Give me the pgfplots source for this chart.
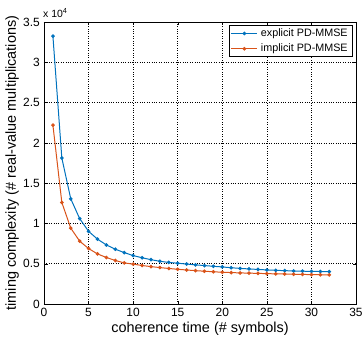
\documentclass[border=0pt]{standalone}
\usepackage{pgfplots}
\pgfplotsset{compat=1.18}
\usetikzlibrary{calc}
\usepackage{fontspec}
\setmainfont{Liberation Sans}
\definecolor{mblue}{RGB}{0,114,189}
\definecolor{morange}{RGB}{217,83,25}
\pgfplotstableread{
T exp imp
1 33250 22200
2 18120 12600
3 13060 9420
4 10600 7800
5 9020 6880
6 8050 6220
7 7330 5770
8 6800 5400
9 6380 5100
10 6010 4950
11 5740 4780
12 5500 4640
13 5300 4520
14 5160 4410
15 5060 4310
16 4960 4220
17 4860 4140
18 4770 4070
19 4680 4000
20 4600 3940
21 4500 3900
22 4420 3860
23 4350 3830
24 4290 3800
25 4230 3770
26 4180 3740
27 4140 3720
28 4100 3690
29 4070 3670
30 4050 3650
31 4030 3630
32 4020 3610
}\data
\begin{document}
\begin{tikzpicture}
\begin{axis}[
  scale only axis, width=312bp, height=282bp,
  xmin=0, xmax=35, ymin=0, ymax=35000,
  xtick={0,5,...,35},
  xticklabels={0,5,10,15,20,25,30,35},
  ytick={0,5000,...,35000},
  yticklabels={0,0.5,1,1.5,2,2.5,3,3.5},
  scaled y ticks=false,
  ticklabel style={font=\fontsize{12}{13}\selectfont},
  xticklabel style={inner sep=0pt, anchor=north, yshift=-4bp},
  yticklabel style={inner sep=0pt, anchor=east, xshift=-4bp},
  tick align=inside, tick style={black, thin},
  major tick length=3.5bp,
  grid=major, grid style={black, dotted, line width=0.5pt},
  axis line style={black, line width=1pt},
  xlabel={coherence time (\# symbols)},
  ylabel={timing complexity (\# real-value multiplications)},
  xlabel style={font=\fontsize{14.5}{16}\selectfont, inner sep=0pt, at={($(rel axis cs:0.5,0)+(0,-28bp)$)}, anchor=base},
  ylabel style={font=\fontsize{14.5}{16}\selectfont, inner sep=0pt, at={($(rel axis cs:0,0.5)+(-25bp,0)$)}, anchor=south, rotate=0},
  legend style={at={($(rel axis cs:1,1)+(-3bp,-3.5bp)$)}, anchor=north east, draw=black, line width=0.7pt,
    font=\fontsize{10.8}{12}\selectfont, inner xsep=2bp, inner ysep=0bp, row sep=0pt,
    nodes={inner sep=3bp}},
  legend image code/.code={\draw[mark repeat=2, mark phase=2, #1] plot coordinates {(0bp,0bp) (13bp,0bp) (26bp,0bp)};},
  legend cell align=left,
  clip=false,
]
\addplot[mblue, line width=1pt, mark=*, mark size=1.3pt] table[x=T, y=exp] {\data};
\addlegendentry{explicit PD-MMSE}
\addplot[morange, line width=1pt, mark=*, mark size=1.3pt] table[x=T, y=imp] {\data};
\addlegendentry{implicit PD-MMSE}
\node[anchor=base west, inner sep=0pt, font=\fontsize{10.5}{12}\selectfont] at ($(rel axis cs:0,1)+(-1bp,4.5bp)$) {x 10\textsuperscript{4}};
\coordinate (bl) at (rel axis cs:0,0);
\coordinate (tr) at (rel axis cs:1,1);
\end{axis}
\pgfresetboundingbox
\path ($(bl)+(-44bp,-39bp)$) rectangle ($(tr)+(7bp,22bp)$);
\end{tikzpicture}
\end{document}
